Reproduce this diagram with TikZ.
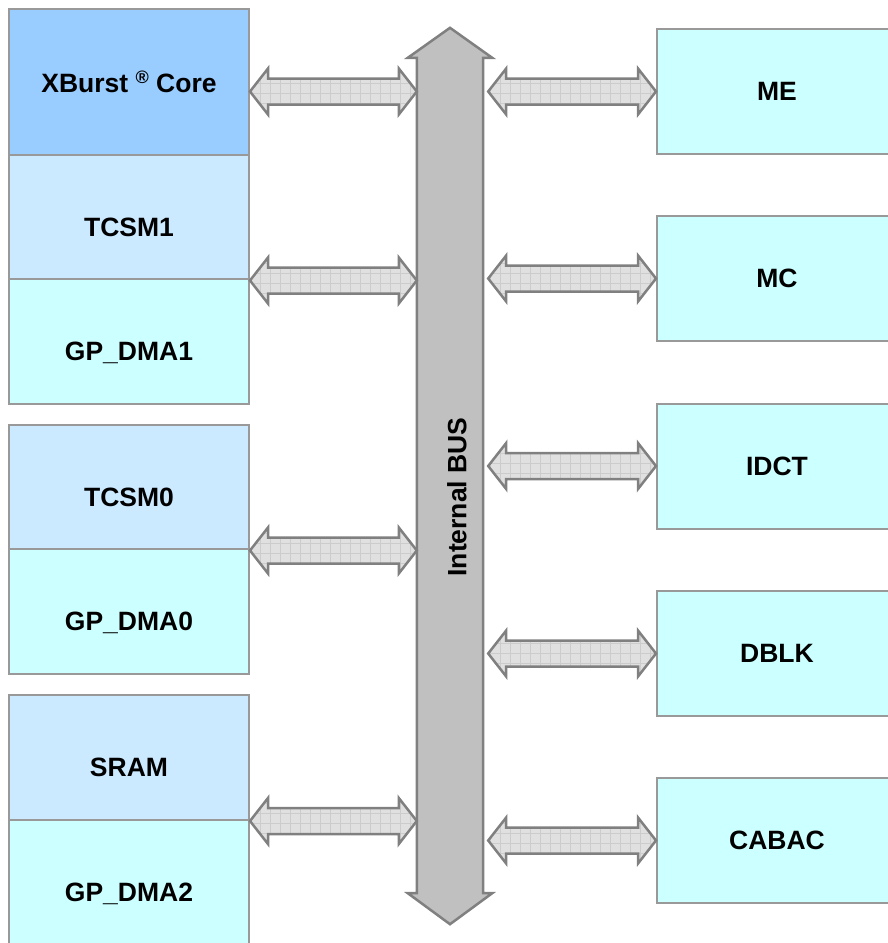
\documentclass[tikz,border=0pt]{standalone}
\usepackage{fontspec}
\setmainfont{Liberation Sans}
\usetikzlibrary{calc, patterns.meta}

\definecolor{corefill}{RGB}{153,204,255}
\definecolor{tcsmfill}{RGB}{204,234,255}
\definecolor{unitfill}{RGB}{204,255,255}
\definecolor{boxline}{RGB}{153,153,153}
\definecolor{arrowfill}{RGB}{224,224,224}
\definecolor{arrowgrid}{RGB}{204,204,204}
\definecolor{arrowline}{RGB}{128,128,128}
\definecolor{busfill}{RGB}{192,192,192}

\tikzset{
  unit/.style={draw=boxline, line width=2pt, fill=unitfill, inner sep=0pt,
    minimum width=240pt, minimum height=125pt,
    font=\bfseries\fontsize{26.5}{30}\selectfont},
  % left column labels sit a bit under the middle
  lowtext/.style={text height=38pt, text depth=0pt},
  linkarrow/.style={draw=arrowline, line width=2.5pt, line join=miter,
    preaction={fill=arrowfill},
    pattern={Hatch[angle=0, distance=10pt, line width=0.6pt]},
    pattern color=arrowgrid},
  busarrow/.style={draw=arrowline, line width=2.5pt, fill=busfill},
  buslabel/.style={font=\bfseries\fontsize{26.5}{30}\selectfont}
}

% block arrow with two heads, at the height of #1
\newcommand{\linkarrow}[2]{%
  \draw[linkarrow] let \p1=#1, \p2=#2 in
    (\x1,\y1) -- (\x1+18,\y1+23) -- (\x1+18,\y1+13) -- (\x2-18,\y1+13)
    -- (\x2-18,\y1+23) -- (\x2,\y1) -- (\x2-18,\y1-23) -- (\x2-18,\y1-13)
    -- (\x1+18,\y1-13) -- (\x1+18,\y1-23) -- cycle;}

\begin{document}
\begin{tikzpicture}[x=1pt, y=-1pt]
  \useasboundingbox (0,0) rectangle (888,943);

  % cpu side
  \node[unit, fill=corefill, minimum height=146pt] (core) at (129,82)
    {XBurst \raisebox{0.6ex}{\fontsize{18}{18}\selectfont ®} Core};
  \node[unit, lowtext, fill=tcsmfill] (tcsm1) at (129,217) {TCSM1};
  \node[unit, lowtext] (dma1) at (129,341.5) {GP\_DMA1};
  \node[unit, lowtext, fill=tcsmfill] (tcsm0) at (129,487) {TCSM0};
  \node[unit, lowtext] (dma0) at (129,611.5) {GP\_DMA0};
  \node[unit, lowtext, fill=tcsmfill] (sram) at (129,757.5) {SRAM};
  \node[unit, lowtext] (dma2) at (129,882.5) {GP\_DMA2};

  % accelerators
  \node[unit] (me) at (777,91.5) {ME};
  \node[unit] (mc) at (777,278.5) {MC};
  \node[unit] (idct) at (777,466) {IDCT};
  \node[unit] (dblk) at (777,653.5) {DBLK};
  \node[unit] (cabac) at (777,840.5) {CABAC};

  % the bus
  \node[minimum width=66pt, minimum height=835pt, inner sep=0pt] (bus) at (450,475.5) {};
  \draw[busarrow] (bus.north west) -- ([xshift=-9pt]bus.north west)
    -- ([yshift=30pt]bus.north) -- ([xshift=9pt]bus.north east)
    -- (bus.north east) -- (bus.south east) -- ([xshift=9pt]bus.south east)
    -- ([yshift=-31pt]bus.south) -- ([xshift=-9pt]bus.south west)
    -- (bus.south west) -- cycle;
  \node[buslabel, rotate=90] (buslbl) at (457,497) {Internal BUS};

  \linkarrow{(core.east |- me.west)}{(bus.west)}
  \linkarrow{(tcsm1.south east)}{(bus.west)}
  \linkarrow{(tcsm0.south east)}{(bus.west)}
  \linkarrow{(sram.south east)}{(bus.west)}

  \foreach \u in {me, mc, idct, dblk, cabac}{
    \linkarrow{($(bus.east |- \u.west)+(5,0)$)}{(\u.west)}
  }
\end{tikzpicture}
\end{document}
